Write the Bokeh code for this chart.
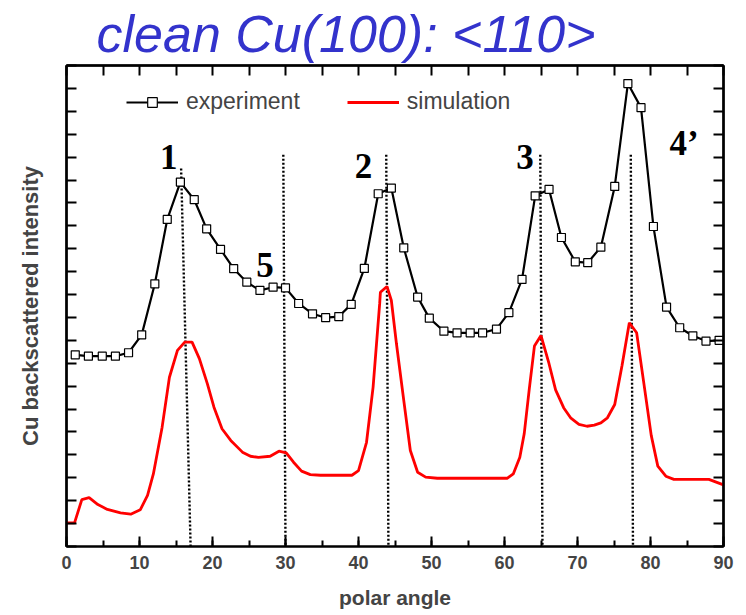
from bokeh.plotting import figure
from bokeh.models import (LinearAxis, SingleIntervalTicker, Legend, LegendItem,
                          Title, ColumnDataSource, CustomLabelingPolicy)
from bokeh.core.properties import value
from bokeh.embed import file_html
from bokeh.resources import INLINE

# polar angle (deg) and backscattered intensity (arb. units, offset)
exp_angle = [1.2, 3.0, 4.9, 6.7, 8.5, 10.3, 12.1, 13.8, 15.6, 17.5,
             19.2, 21.1, 22.9, 24.7, 26.5, 28.3, 30.0, 31.8, 33.7, 35.5,
             37.3, 39.0, 40.8, 42.7, 44.5, 46.2, 48.1, 49.7, 51.7, 53.5,
             55.3, 57.0, 58.9, 60.6, 62.4, 64.2, 66.1, 67.8, 69.7, 71.4,
             73.2, 75.1, 76.9, 78.7, 80.4, 82.2, 84.0, 85.8, 87.6, 89.4]
exp_intensity = [8.37, 8.31, 8.31, 8.31, 8.46, 9.24, 11.47, 14.28, 15.91, 15.14,
                 13.87, 12.97, 12.13, 11.54, 11.18, 11.32, 11.29, 10.61, 10.16, 9.99,
                 10.04, 10.57, 12.14, 15.40, 15.65, 13.04, 10.89, 9.97, 9.40, 9.33,
                 9.33, 9.33, 9.49, 10.21, 11.66, 15.31, 15.59, 13.49, 12.43, 12.39,
                 13.07, 15.72, 20.21, 19.16, 13.97, 10.45, 9.55, 9.20, 8.97, 9.00]

sim_angle = [0.0, 1.1, 2.1, 3.1, 4.3, 5.6, 7.4, 8.8, 10.1, 11.1,
             11.9, 13.1, 14.1, 15.2, 16.2, 17.2, 18.2, 19.3, 20.2, 21.3,
             22.5, 24.1, 25.2, 26.3, 27.9, 29.1, 30.1, 31.1, 32.2, 33.4,
             34.8, 39.1, 40.0, 41.1, 42.0, 42.9, 43.0, 43.9, 44.5, 45.2,
             46.2, 47.1, 48.1, 49.2, 50.8, 60.4, 61.2, 62.1, 62.7, 63.4,
             64.1, 65.0, 66.1, 67.0, 68.1, 69.1, 70.2, 71.3, 72.3, 73.2,
             74.1, 75.1, 76.1, 77.1, 78.1, 79.1, 80.1, 81.0, 82.1, 83.2,
             88.0, 90.0]
sim_intensity = [1.03, 1.03, 2.05, 2.13, 1.83, 1.62, 1.47, 1.41, 1.60, 2.23,
                 3.17, 5.21, 7.39, 8.56, 8.92, 8.92, 8.20, 7.10, 6.08, 5.14,
                 4.63, 4.12, 3.94, 3.89, 3.94, 4.16, 4.09, 3.68, 3.29, 3.14,
                 3.11, 3.11, 3.31, 4.55, 6.96, 10.60, 11.10, 11.35, 10.74, 8.85,
                 6.38, 4.19, 3.24, 3.03, 2.98, 2.98, 3.17, 3.90, 4.92, 6.89,
                 8.75, 9.21, 7.98, 6.84, 6.06, 5.60, 5.33, 5.25, 5.30, 5.40,
                 5.62, 6.20, 7.90, 9.77, 9.33, 7.10, 4.85, 3.51, 3.07, 2.93,
                 2.93, 2.69]

# channeling directions (dotted markers): top and bottom angles
dir_top_angle = [15.7, 29.7, 43.8, 64.9, 77.3]
dir_bottom_angle = [17.0, 30.0, 44.1, 65.2, 77.6]
dir_top_level = [16.5, 17.1, 17.1, 17.1, 17.1]

# peak labels
peak_names = ["1", "5", "2", "3", "4\u2019"]
peak_label_angle = [14.0, 27.2, 40.7, 62.8, 84.6]
peak_label_level = [17.0, 12.3, 16.6, 17.0, 17.6]

FONT = "Liberation Sans"

# axes that carry tick marks only: keep no labels
no_labels = CustomLabelingPolicy(code="return [];")

p = figure(width=746, height=615, output_backend="svg", toolbar_location=None,
           x_range=(0, 90), y_range=(0, 21),
           min_border_left=66, min_border_right=23, min_border_bottom=69,
           min_border_top=0)
p.grid.visible = False
p.outline_line_color = "black"
p.outline_line_width = 2
p.background_fill_color = "white"
p.border_fill_color = "white"

# title
p.title = Title(text="clean Cu(100): <110>", align="left", offset=30,
                text_font=FONT, text_font_size="52px", text_font_style="italic",
                text_color="#3333CC", standoff=5)

# bottom axis
xa = p.xaxis[0]
xa.ticker = SingleIntervalTicker(interval=10, num_minor_ticks=2)
xa.axis_line_width = 2
xa.major_tick_in = 10
xa.major_tick_out = 0
xa.minor_tick_in = 6
xa.minor_tick_out = 0
xa.major_tick_line_width = 2
xa.minor_tick_line_width = 2
xa.major_label_text_font = FONT
xa.major_label_text_font_style = "bold"
xa.major_label_text_font_size = "18px"
xa.major_label_standoff = 9
xa.axis_label = "polar angle"
xa.axis_label_text_font = FONT
xa.axis_label_text_font_style = "bold"
xa.axis_label_text_font_size = "21px"
xa.axis_label_standoff = 14

# left axis
ya = p.yaxis[0]
ya.ticker = SingleIntervalTicker(interval=1, num_minor_ticks=0)
ya.axis_line_width = 2.5
ya.major_tick_in = 10
ya.major_tick_out = 0
ya.major_tick_line_width = 2
ya.major_label_policy = no_labels
ya.major_label_text_font_size = "0px"
ya.major_label_standoff = 0
ya.axis_label = "Cu backscattered intensity"
ya.axis_label_text_font = FONT
ya.axis_label_text_font_style = "bold"
ya.axis_label_text_font_size = "22px"
ya.axis_label_standoff = 24

# mirrored right and top axes
ra = LinearAxis(ticker=SingleIntervalTicker(interval=1, num_minor_ticks=0),
                major_tick_in=10, major_tick_out=0, major_tick_line_width=2,
                axis_line_width=2.5, major_label_policy=no_labels,
                major_label_text_font_size="0px", major_label_standoff=0)
p.add_layout(ra, "right")
ta = LinearAxis(ticker=SingleIntervalTicker(interval=5, num_minor_ticks=0),
                major_tick_in=10, major_tick_out=0, major_tick_line_width=2,
                axis_line_width=2.5, major_label_policy=no_labels,
                major_label_text_font_size="0px", major_label_standoff=0)
p.add_layout(ta, "above")

# direction markers
p.segment(x0=dir_top_angle, y0=dir_top_level, x1=dir_bottom_angle,
          y1=[0] * len(dir_bottom_angle), line_color="black", line_width=2.4,
          line_dash="2 2")

# simulation curve
sim_line = p.line(sim_angle, sim_intensity, line_color="#FF0000", line_width=2.8)

# experiment curve with open squares
exp_src = ColumnDataSource(dict(x=exp_angle, y=exp_intensity))
exp_line = p.line("x", "y", source=exp_src, line_color="black", line_width=2.2)
exp_pts = p.scatter("x", "y", source=exp_src, marker="square", size=8,
                    fill_color="white", line_color="black", line_width=1.2)

# peak labels
p.text(x=peak_label_angle, y=peak_label_level, text=peak_names,
       text_font=value("Liberation Serif"), text_font_style="bold",
       text_font_size="35px", text_align="center", text_baseline="middle",
       text_color="black")

legend = Legend(items=[LegendItem(label="experiment", renderers=[exp_line, exp_pts]),
                       LegendItem(label="simulation", renderers=[sim_line])],
                orientation="horizontal", location=(60, 431),
                glyph_width=52, glyph_height=24, label_height=24,
                label_standoff=8, spacing=47, padding=0, margin=0,
                border_line_color=None, background_fill_alpha=0,
                label_text_font=FONT, label_text_font_size="23px")
p.add_layout(legend, "center")

open("out.html", "w").write(file_html(p, INLINE))
